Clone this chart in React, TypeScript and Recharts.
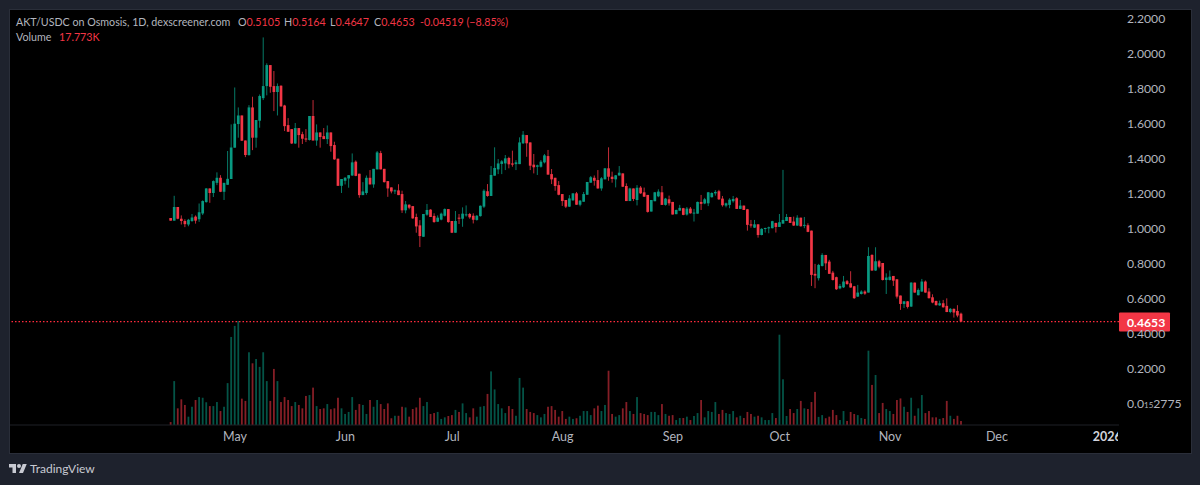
import React from "react";
import { Bar, ComposedChart, ReferenceLine, XAxis, YAxis } from "recharts";

const opens = [
  1.057, 1.042, 1.12, 1.053, 1.04, 1.02, 1.04, 1.065, 1.05, 1.083,
  1.148, 1.226, 1.2, 1.258, 1.287, 1.207, 1.247, 1.28, 1.459, 1.594,
  1.643, 1.5, 1.417, 1.689, 1.516, 1.613, 1.742, 1.811, 1.931, 1.811,
  1.777, 1.813, 1.7, 1.588, 1.565, 1.483, 1.571, 1.536, 1.512, 1.503,
  1.64, 1.5, 1.546, 1.525, 1.508, 1.546, 1.474, 1.396, 1.241, 1.27,
  1.283, 1.3, 1.379, 1.31, 1.188, 1.2, 1.287, 1.249, 1.335, 1.428,
  1.338, 1.268, 1.232, 1.21, 1.215, 1.194, 1.101, 1.133, 1.125, 1.063,
  1.015, 0.95, 1.076, 1.105, 1.069, 1.036, 1.048, 1.07, 1.108, 1.04,
  0.973, 1.059, 1.053, 1.073, 1.08, 1.07, 1.046, 1.068, 1.122, 1.21,
  1.183, 1.299, 1.335, 1.366, 1.369, 1.4, 1.369, 1.365, 1.365, 1.484,
  1.531, 1.489, 1.362, 1.35, 1.35, 1.375, 1.411, 1.308, 1.287, 1.245,
  1.194, 1.16, 1.122, 1.158, 1.198, 1.133, 1.15, 1.19, 1.259, 1.287,
  1.274, 1.226, 1.278, 1.341, 1.293, 1.278, 1.3, 1.312, 1.24, 1.154,
  1.226, 1.16, 1.231, 1.204, 1.189, 1.094, 1.153, 1.181, 1.204, 1.132,
  1.164, 1.149, 1.079, 1.099, 1.113, 1.077, 1.111, 1.084, 1.082, 1.149,
  1.14, 1.141, 1.176, 1.198, 1.21, 1.168, 1.128, 1.132, 1.153, 1.17,
  1.109, 1.128, 1.107, 1.021, 1.002, 1.021, 0.96, 0.995, 0.998, 0.999,
  1.029, 1.006, 1.025, 1.04, 1.063, 1.037, 1.014, 1.059, 1.014, 1.016,
  0.985, 0.738, 0.713, 0.783, 0.846, 0.808, 0.745, 0.719, 0.655, 0.661,
  0.696, 0.684, 0.667, 0.608, 0.623, 0.637, 0.631, 0.846, 0.757, 0.81,
  0.8, 0.703, 0.703, 0.726, 0.707, 0.614, 0.566, 0.581, 0.551, 0.688,
  0.616, 0.637, 0.694, 0.637, 0.604, 0.583, 0.558, 0.57, 0.555, 0.52,
  0.538, 0.526, 0.5105,
];

const highs = [
  1.057, 1.184, 1.12, 1.072, 1.05, 1.052, 1.08, 1.072, 1.14, 1.158,
  1.228, 1.226, 1.272, 1.318, 1.302, 1.258, 1.44, 1.592, 1.803, 1.689,
  1.643, 1.5, 1.702, 1.75, 1.617, 1.763, 2.089, 1.941, 1.931, 1.897,
  1.826, 1.815, 1.704, 1.628, 1.565, 1.6, 1.571, 1.55, 1.565, 1.64,
  1.731, 1.592, 1.546, 1.571, 1.586, 1.546, 1.493, 1.396, 1.28, 1.291,
  1.302, 1.426, 1.386, 1.31, 1.262, 1.3, 1.331, 1.338, 1.44, 1.441,
  1.338, 1.268, 1.232, 1.22, 1.25, 1.213, 1.154, 1.135, 1.125, 1.082,
  1.045, 1.08, 1.137, 1.107, 1.084, 1.072, 1.088, 1.112, 1.108, 1.04,
  1.097, 1.08, 1.118, 1.129, 1.086, 1.084, 1.074, 1.129, 1.221, 1.251,
  1.354, 1.461, 1.394, 1.388, 1.417, 1.407, 1.442, 1.388, 1.518, 1.554,
  1.531, 1.489, 1.423, 1.362, 1.388, 1.423, 1.446, 1.337, 1.287, 1.268,
  1.194, 1.16, 1.188, 1.198, 1.206, 1.16, 1.206, 1.263, 1.297, 1.3,
  1.331, 1.291, 1.343, 1.461, 1.322, 1.303, 1.354, 1.312, 1.255, 1.23,
  1.226, 1.245, 1.24, 1.231, 1.189, 1.16, 1.206, 1.221, 1.24, 1.172,
  1.185, 1.149, 1.105, 1.132, 1.115, 1.12, 1.12, 1.109, 1.151, 1.189,
  1.172, 1.206, 1.204, 1.216, 1.218, 1.183, 1.145, 1.17, 1.183, 1.176,
  1.16, 1.128, 1.109, 1.046, 1.046, 1.021, 0.999, 1.002, 1.008, 1.041,
  1.03, 1.08, 1.332, 1.08, 1.063, 1.065, 1.073, 1.059, 1.063, 1.027,
  0.985, 0.795, 0.795, 0.856, 0.846, 0.818, 0.755, 0.722, 0.68, 0.726,
  0.703, 0.753, 0.669, 0.675, 0.644, 0.644, 0.89, 0.85, 0.89, 0.818,
  0.8, 0.741, 0.757, 0.726, 0.707, 0.614, 0.583, 0.583, 0.69, 0.688,
  0.655, 0.709, 0.7, 0.656, 0.621, 0.585, 0.585, 0.589, 0.598, 0.543,
  0.54, 0.559, 0.5164,
];

const lows = [
  1.042, 1.042, 1.05, 1.02, 1.005, 1.01, 1.035, 1.025, 1.035, 1.074,
  1.145, 1.144, 1.177, 1.245, 1.205, 1.16, 1.247, 1.28, 1.459, 1.516,
  1.497, 1.405, 1.413, 1.445, 1.459, 1.573, 1.731, 1.758, 1.773, 1.668,
  1.643, 1.693, 1.554, 1.55, 1.48, 1.48, 1.459, 1.48, 1.491, 1.5,
  1.5, 1.47, 1.459, 1.508, 1.48, 1.436, 1.39, 1.241, 1.2, 1.249,
  1.23, 1.298, 1.296, 1.173, 1.188, 1.19, 1.249, 1.23, 1.335, 1.335,
  1.26, 1.178, 1.198, 1.194, 1.188, 1.086, 1.084, 1.107, 1.053, 0.973,
  0.891, 0.95, 1.07, 1.063, 1.03, 1.034, 1.044, 1.066, 1.03, 0.971,
  0.973, 1.023, 1.007, 1.065, 1.053, 1.026, 1.042, 1.065, 1.114, 1.179,
  1.183, 1.299, 1.308, 1.308, 1.331, 1.341, 1.35, 1.331, 1.365, 1.48,
  1.407, 1.331, 1.312, 1.303, 1.345, 1.369, 1.305, 1.251, 1.213, 1.187,
  1.126, 1.114, 1.12, 1.156, 1.133, 1.124, 1.15, 1.19, 1.258, 1.242,
  1.225, 1.213, 1.278, 1.27, 1.259, 1.232, 1.3, 1.234, 1.154, 1.154,
  1.154, 1.129, 1.195, 1.177, 1.088, 1.094, 1.153, 1.176, 1.132, 1.128,
  1.128, 1.077, 1.079, 1.099, 1.073, 1.071, 1.082, 1.037, 1.082, 1.103,
  1.136, 1.125, 1.174, 1.185, 1.16, 1.122, 1.118, 1.113, 1.145, 1.109,
  1.109, 1.103, 0.985, 1.002, 1.0, 0.945, 0.958, 0.974, 0.97, 0.998,
  0.974, 1.006, 1.025, 1.04, 1.029, 1.012, 1.012, 1.008, 0.999, 0.976,
  0.669, 0.656, 0.7, 0.78, 0.76, 0.738, 0.7, 0.646, 0.65, 0.657,
  0.675, 0.659, 0.595, 0.606, 0.62, 0.618, 0.631, 0.755, 0.755, 0.77,
  0.7, 0.623, 0.7, 0.669, 0.597, 0.532, 0.543, 0.54, 0.549, 0.63,
  0.615, 0.635, 0.63, 0.597, 0.57, 0.557, 0.555, 0.545, 0.519, 0.513,
  0.488, 0.49, 0.4647,
];

const closes = [
  1.042, 1.12, 1.053, 1.04, 1.022, 1.047, 1.06, 1.042, 1.09, 1.154,
  1.226, 1.2, 1.268, 1.287, 1.207, 1.258, 1.281, 1.46, 1.596, 1.643,
  1.499, 1.417, 1.689, 1.516, 1.617, 1.754, 1.811, 1.931, 1.807, 1.777,
  1.811, 1.695, 1.582, 1.55, 1.483, 1.571, 1.531, 1.51, 1.505, 1.64,
  1.5, 1.546, 1.52, 1.508, 1.546, 1.468, 1.392, 1.241, 1.28, 1.287,
  1.302, 1.375, 1.298, 1.188, 1.209, 1.287, 1.249, 1.338, 1.432, 1.335,
  1.262, 1.226, 1.209, 1.215, 1.188, 1.101, 1.135, 1.116, 1.055, 1.009,
  0.954, 1.08, 1.103, 1.063, 1.034, 1.059, 1.082, 1.108, 1.034, 0.973,
  1.04, 1.053, 1.082, 1.078, 1.061, 1.047, 1.07, 1.127, 1.213, 1.183,
  1.303, 1.343, 1.369, 1.381, 1.398, 1.364, 1.362, 1.375, 1.489, 1.533,
  1.484, 1.356, 1.347, 1.358, 1.379, 1.415, 1.305, 1.278, 1.24, 1.19,
  1.154, 1.122, 1.169, 1.198, 1.133, 1.156, 1.194, 1.263, 1.29, 1.27,
  1.226, 1.284, 1.341, 1.293, 1.28, 1.301, 1.316, 1.236, 1.154, 1.226,
  1.166, 1.23, 1.198, 1.179, 1.092, 1.16, 1.204, 1.208, 1.132, 1.168,
  1.141, 1.077, 1.103, 1.115, 1.075, 1.111, 1.084, 1.088, 1.149, 1.138,
  1.164, 1.204, 1.2, 1.206, 1.164, 1.13, 1.141, 1.162, 1.166, 1.109,
  1.128, 1.103, 1.018, 1.014, 1.021, 0.96, 0.995, 1.0, 1.004, 1.039,
  1.006, 1.033, 1.046, 1.063, 1.029, 1.014, 1.059, 1.01, 1.018, 0.978,
  0.732, 0.728, 0.789, 0.846, 0.798, 0.738, 0.703, 0.65, 0.669, 0.694,
  0.68, 0.66, 0.599, 0.631, 0.637, 0.625, 0.84, 0.757, 0.81, 0.779,
  0.703, 0.717, 0.722, 0.699, 0.608, 0.566, 0.581, 0.549, 0.688, 0.631,
  0.646, 0.694, 0.631, 0.599, 0.574, 0.559, 0.57, 0.547, 0.52, 0.538,
  0.517, 0.5, 0.4653,
];

// volume in thousands
const volumes = [
  13, 195, 74, 114, 89, 37, 81, 111, 124, 121,
  101, 84, 84, 102, 62, 81, 186, 391, 440, 462,
  117, 107, 323, 274, 293, 258, 323, 195, 107, 249,
  195, 102, 124, 111, 84, 102, 89, 74, 129, 133,
  166, 84, 71, 74, 93, 70, 74, 121, 74, 49,
  58, 124, 67, 93, 89, 49, 111, 81, 111, 93,
  71, 96, 30, 41, 41, 81, 78, 37, 71, 78,
  121, 84, 102, 49, 53, 58, 27, 34, 40, 44,
  67, 58, 96, 53, 34, 74, 37, 81, 84, 138,
  238, 158, 93, 74, 53, 84, 71, 41, 209, 166,
  71, 58, 53, 44, 34, 49, 81, 84, 67, 37,
  62, 27, 37, 27, 30, 41, 62, 62, 44, 74,
  86, 62, 89, 241, 49, 37, 44, 74, 102, 62,
  49, 124, 53, 49, 44, 58, 58, 44, 93, 49,
  41, 44, 22, 31, 31, 37, 22, 40, 53, 111,
  34, 62, 58, 102, 49, 67, 53, 49, 62, 34,
  41, 31, 58, 49, 37, 41, 34, 22, 22, 53,
  31, 401, 203, 40, 71, 53, 71, 107, 74, 71,
  102, 147, 36, 44, 30, 37, 67, 44, 22, 62,
  18, 58, 49, 44, 31, 27, 330, 178, 222, 53,
  98, 71, 62, 49, 111, 118, 81, 58, 121, 41,
  74, 133, 53, 62, 34, 34, 27, 31, 107, 41,
  27, 41, 17.773,
];

const priceTicks = [0, 0.2, 0.4, 0.6, 0.8, 1, 1.2, 1.4, 1.6, 1.8, 2, 2.2];
const timeTicks = [18, 49, 79, 110, 141, 171, 202, 232, 263];
const timeLabels = ["May", "Jun", "Jul", "Aug", "Sep", "Oct", "Nov", "Dec", "2026"];
const lastPrice = 0.4653;

const GREEN = "#089981";
const RED = "#f23645";
const TEXT = "#b2b5be";
const FONT = "Lato, sans-serif";

const rows = opens.map((open, i) => ({
  day: i,
  open,
  high: highs[i],
  low: lows[i],
  close: closes[i],
  volume: volumes[i],
}));

const Candle = (props: any) => {
  const { x, y, width, height, payload } = props;
  const { open, high, low, close } = payload;
  const perUnit = height / (high - low || 1);
  const top = y + (high - Math.max(open, close)) * perUnit;
  const bottom = y + (high - Math.min(open, close)) * perUnit;
  const color = close >= open ? GREEN : RED;
  const mid = x + width / 2;
  return (
    <g>
      <line x1={mid} x2={mid} y1={y} y2={y + height} stroke={color} strokeWidth={1} strokeOpacity={0.8} />
      <rect x={mid - 1.35} y={top} width={2.7} height={Math.max(bottom - top, 1)} fill={color} />
    </g>
  );
};

const VolumeBar = (props: any) => {
  const { x, y, width, height, payload } = props;
  const color = payload.close >= payload.open ? GREEN : RED;
  return <rect x={x + width / 2 - 0.9} y={y} width={1.8} height={height} fill={color} fillOpacity={0.55} />;
};

const PriceTick = (props: any) => {
  const { x, y, payload } = props;
  const style = { fontFamily: FONT, fontSize: 12.2, fill: TEXT };
  if (payload.value === 0) {
    return (
      <text x={x} y={y + 5} style={style}>
        0.0<tspan fontSize={8}>15</tspan>2775
      </text>
    );
  }
  return (
    <text x={x} y={y + 5} style={style}>
      {payload.value.toFixed(4)}
    </text>
  );
};

const TimeTick = (props: any) => {
  const { x, y, payload } = props;
  const label = timeLabels[timeTicks.indexOf(payload.value)];
  const isYear = label === "2026";
  return (
    <text
      x={x}
      y={y + 8}
      textAnchor="middle"
      clipPath="url(#timeClip)"
      style={{ fontFamily: FONT, fontSize: 12.5, fill: isYear ? "#d1d4dc" : TEXT, fontWeight: isYear ? 700 : 400 }}
    >
      {label}
    </text>
  );
};

const PriceTag = (props: any) => {
  const { viewBox } = props;
  const left = viewBox.x + viewBox.width;
  return (
    <g>
      <rect x={left} y={viewBox.y - 9} width={51} height={19} rx={1} fill={RED} />
      <text x={left + 8} y={viewBox.y + 5} style={{ fontFamily: FONT, fontSize: 12.2, fill: "#fff", fontWeight: 700 }}>
        0.4653
      </text>
    </g>
  );
};

const headerValues = [
  { left: 238, tag: "O", value: "0.5105" },
  { left: 284, tag: "H", value: "0.5164" },
  { left: 330, tag: "L", value: "0.4647" },
  { left: 374, tag: "C", value: "0.4653" },
];

const line = (left: number, top: number): React.CSSProperties => ({
  position: "absolute",
  left,
  top,
  fontFamily: FONT,
  fontSize: 10.7,
  lineHeight: "16px",
  whiteSpace: "nowrap",
  color: TEXT,
});

export default function App() {
  return (
    <div style={{ position: "absolute", left: 0, top: 0, width: 1200, height: 485, background: "#1e222d", overflow: "hidden" }}>
      <div style={{ position: "absolute", left: 9, top: 9, width: 1181, height: 443, background: "#000", border: "1px solid #2a2e39", boxSizing: "content-box" }} />
      <div style={{ position: "absolute", left: 0, top: 0 }}>
        <ComposedChart width={1200} height={485} data={rows} barGap={-3} barSize={3} margin={{ top: 10, right: 0, bottom: 0, left: 10 }}>
          <defs>
            <clipPath id="timeClip">
              <rect x={0} y={425} width={1118} height={30} />
            </clipPath>
          </defs>
          <XAxis
            dataKey="day"
            type="number"
            domain={[-45.2, 266.3]}
            ticks={timeTicks}
            tick={TimeTick}
            tickLine={false}
            height={60}
            axisLine={{ stroke: "#1f2126" }}
            interval={0}
          />
          <YAxis
            yAxisId="price"
            orientation="right"
            domain={[-0.1257, 2.2457]}
            ticks={priceTicks}
            tick={PriceTick}
            tickSize={0}
            tickMargin={8}
            width={81}
            axisLine={false}
            interval={0}
          />
          <YAxis yAxisId="volume" hide domain={[0, 1843]} />
          <Bar yAxisId="volume" dataKey="volume" shape={VolumeBar} isAnimationActive={false} />
          <Bar yAxisId="price" dataKey={(d: any) => [d.low, d.high]} shape={Candle} isAnimationActive={false} />
          <ReferenceLine yAxisId="price" y={lastPrice} stroke="#ff2a3c" strokeWidth={1.3} strokeDasharray="1.5 2" label={PriceTag} />
        </ComposedChart>
      </div>
      <div style={line(16, 14)}>AKT/USDC on Osmosis, 1D, dexscreener.com</div>
      {headerValues.map((h) => (
        <div key={h.tag} style={line(h.left, 14)}>
          {h.tag}
          <span style={{ color: RED }}>{h.value}</span>
        </div>
      ))}
      <div style={{ ...line(420, 14), color: RED }}>-0.04519 (−8.85%)</div>
      <div style={line(16, 29)}>Volume</div>
      <div style={{ ...line(59, 29), color: RED }}>17.773K</div>
      <svg style={{ position: "absolute", left: 9, top: 464 }} width={18} height={10} viewBox="0 4 36 20">
        <path d="M14 22H7V11H0V4h14v18zM28 22h-8l7.5-18h8L28 22z" fill="#c8cad2" />
        <circle cx={20} cy={8} r={4} fill="#c8cad2" />
      </svg>
      <div style={{ ...line(30, 461), fontSize: 12, color: "#c8cad2" }}>TradingView</div>
    </div>
  );
}
